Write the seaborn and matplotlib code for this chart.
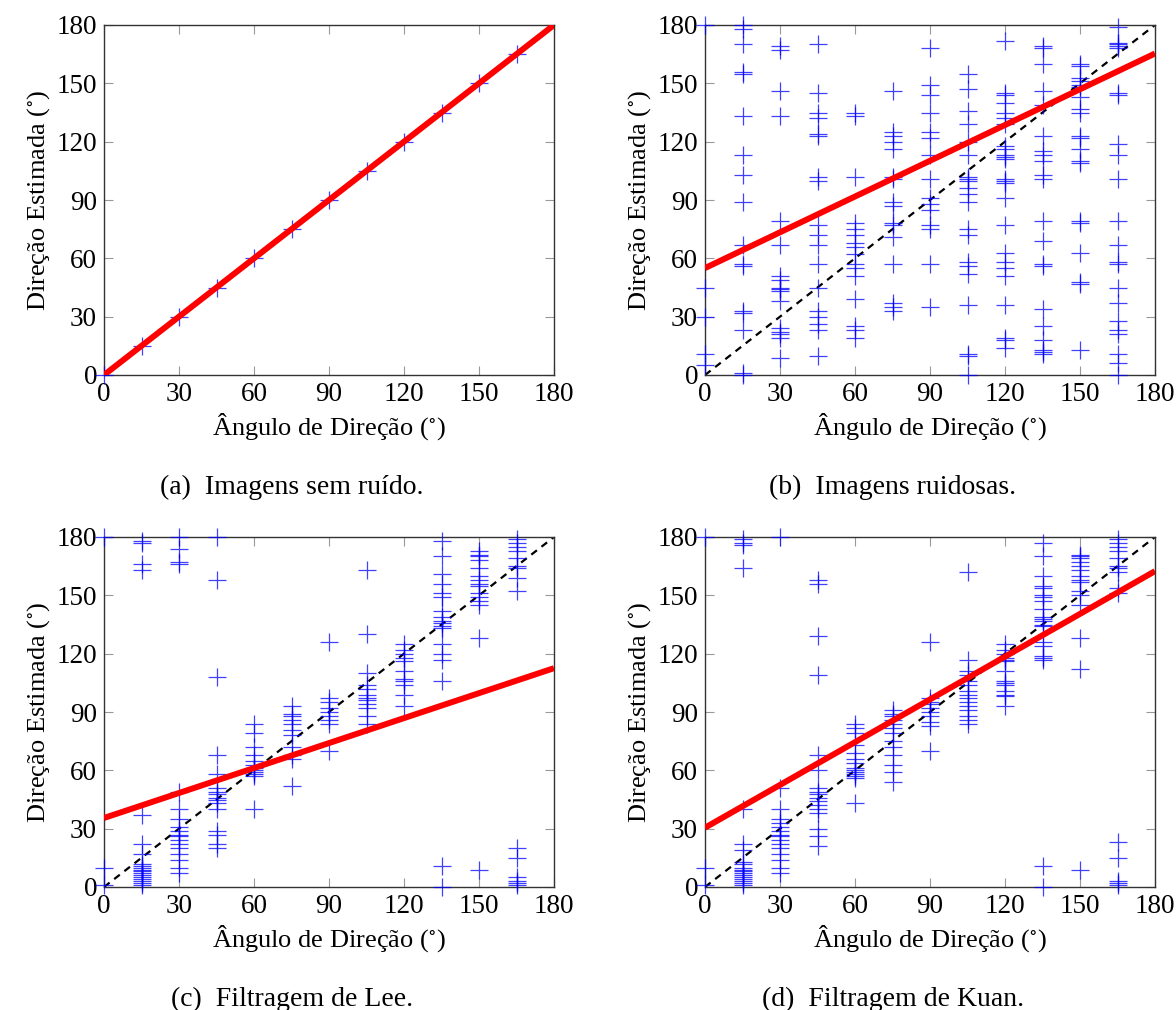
import numpy as np
import pandas as pd
import matplotlib
matplotlib.use("Agg")
import matplotlib.pyplot as plt
import seaborn as sns

# True steering angles (degrees) of the test images
angles = [0, 15, 30, 45, 60, 75, 90, 105, 120, 135, 150, 165]

# Estimated direction for each angle, one list per angle
clean_est = [[0], [15], [30], [45], [60], [75], [90], [105], [120], [135], [150], [165]]

noisy_est = [
    [180, 45, 30, 11, 5],
    [180, 178, 170, 156, 155, 133, 113, 103, 89, 67, 57, 56, 33, 32, 23, 1, 0],
    [169, 167, 146, 133, 79, 67, 51, 49, 45, 44, 43, 38, 24, 22, 21, 19, 9],
    [170, 145, 135, 132, 124, 123, 102, 100, 77, 72, 67, 57, 45, 33, 30, 26, 23, 10],
    [135, 133, 102, 78, 75, 72, 68, 66, 62, 57, 55, 51, 39, 25, 23, 19],
    [146, 125, 123, 120, 116, 102, 101, 89, 87, 78, 77, 71, 57, 37, 35, 33],
    [168, 149, 144, 135, 125, 122, 113, 101, 91, 88, 85, 77, 75, 57, 35],
    [155, 147, 136, 129, 120, 113, 102, 101, 100, 96, 93, 89, 75, 72, 58, 56, 52, 36, 11, 10, 0],
    [172, 145, 144, 140, 135, 132, 129, 118, 116, 113, 112, 111, 101, 100, 99, 91, 77, 63, 58,
     55, 51, 36, 19, 18, 14],
    [169, 168, 160, 146, 139, 123, 115, 113, 110, 103, 101, 79, 69, 57, 56, 34, 25, 18, 13, 12, 11],
    [160, 159, 153, 151, 149, 148, 143, 137, 135, 123, 122, 116, 110, 109, 79, 78, 63, 48, 47, 13],
    [179, 171, 170, 169, 168, 145, 144, 119, 113, 101, 79, 67, 58, 57, 45, 37, 28, 23, 21, 11, 6, 0],
]

lee_est = [
    [180, 10, 1],
    [178, 177, 166, 163, 37, 22, 17, 12, 11, 10, 9, 8, 7, 6, 5, 4, 3, 2, 1],
    [180, 174, 167, 166, 49, 40, 35, 31, 29, 27, 26, 24, 22, 20, 17, 14, 10, 7],
    [180, 158, 108, 68, 58, 51, 49, 48, 46, 45, 43, 40, 29, 27, 22, 20],
    [84, 79, 72, 68, 65, 63, 61, 60, 59, 58, 57, 40],
    [93, 89, 88, 86, 84, 81, 78, 72, 68, 66, 52],
    [126, 97, 95, 92, 90, 88, 86, 84, 70],
    [163, 130, 110, 104, 102, 99, 97, 96, 94, 92, 88, 84],
    [125, 122, 120, 118, 116, 111, 107, 106, 104, 99, 93],
    [178, 170, 161, 156, 151, 149, 142, 139, 137, 136, 134, 133, 125, 120, 117, 106, 11, 0],
    [173, 171, 170, 168, 164, 160, 158, 156, 155, 151, 149, 147, 145, 128, 9],
    [179, 177, 175, 173, 169, 165, 164, 159, 152, 20, 15, 5, 3, 2, 1],
]

kuan_est = [
    [180, 10, 1],
    [179, 177, 176, 164, 40, 22, 19, 13, 12, 10, 9, 8, 7, 6, 5, 4, 3, 2, 1],
    [180, 51, 40, 35, 33, 31, 29, 27, 26, 24, 22, 20, 17, 14, 10, 7],
    [158, 156, 129, 109, 68, 60, 51, 49, 48, 46, 44, 42, 40, 38, 30, 26, 21],
    [84, 82, 79, 73, 69, 66, 64, 61, 60, 59, 58, 57, 56, 43],
    [91, 89, 88, 86, 84, 82, 79, 75, 72, 68, 63, 59, 54],
    [126, 97, 95, 94, 92, 90, 88, 85, 83, 70],
    [162, 117, 111, 109, 106, 104, 101, 99, 97, 95, 93, 91, 88, 86, 84],
    [125, 122, 120, 118, 117, 116, 111, 106, 105, 104, 101, 99, 98, 93],
    [177, 170, 160, 155, 154, 150, 149, 147, 143, 139, 138, 137, 135, 134, 126, 124, 119, 118,
     117, 11, 0],
    [171, 170, 169, 167, 165, 163, 160, 158, 157, 152, 150, 145, 128, 112, 9],
    [179, 177, 175, 173, 169, 165, 164, 162, 154, 151, 23, 15, 3, 2, 1],
]

# Linear fits (intercept, slope) for each case
fit_intercepts = [0.0, 55.0, 35.5, 30.5]
fit_slopes = [1.0, 0.613, 0.428, 0.733]

captions = ["(a)  Imagens sem ruído.", "(b)  Imagens ruidosas.",
            "(c)  Filtragem de Lee.", "(d)  Filtragem de Kuan."]
ticks = [0, 30, 60, 90, 120, 150, 180]

sns.set_theme(style="white")
plt.rcParams["font.family"] = "serif"
plt.rcParams["font.serif"] = ["Liberation Serif", "DejaVu Serif"]
plt.rcParams["mathtext.fontset"] = "stix"

W, H = 1176, 1010
fig = plt.figure(figsize=(W / 100, H / 100), dpi=100)

# axes boxes in pixels: left, top
boxes = [(104, 25), (705, 25), (104, 537), (705, 537)]
aw, ah = 450, 350

datasets = [clean_est, noisy_est, lee_est, kuan_est]

for k, (est, (lx, ty)) in enumerate(zip(datasets, boxes)):
    ax = fig.add_axes([lx / W, 1 - (ty + ah) / H, aw / W, ah / H])
    xs = [a for a, col in zip(angles, est) for _ in col]
    ys = [v for col in est for v in col]
    df = pd.DataFrame({"angulo": xs, "estimada": ys})

    # reference diagonal
    ax.plot([0, 180], [0, 180], color="black", lw=1.6, ls=(0, (3.2, 2.6)), zorder=2)
    sns.scatterplot(data=df, x="angulo", y="estimada", marker="+", s=180,
                    color="blue", linewidth=0.9, alpha=0.75, ax=ax, zorder=3,
                    legend=False, clip_on=False)
    xf = np.array([0, 180])
    ax.plot(xf, fit_intercepts[k] + fit_slopes[k] * xf, color="red", lw=4.3,
            solid_capstyle="butt", zorder=4)

    ax.set_xlim(0, 180)
    ax.set_ylim(0, 180)
    ax.set_xticks(ticks)
    ax.set_yticks(ticks)
    ax.tick_params(axis="both", which="both", direction="in", length=6.5,
                   width=0.8, color="#999999", labelsize=19.5, pad=5,
                   top=True, right=True, bottom=True, left=True,
                   labelcolor="black")
    for sp in ax.spines.values():
        sp.set_color("#333333")
        sp.set_linewidth(1.0)
        sp.set_visible(True)
    ax.set_xlabel("Ângulo de Direção ($^{\\circ}$)", fontsize=19, labelpad=3, color="black")
    ax.set_ylabel("Direção Estimada ($^{\\circ}$)", fontsize=19, labelpad=3, color="black")
    ax.grid(False)

    cx = (lx + aw / 2 - 37) / W
    cy = 1 - (ty + 462) / H
    fig.text(cx, cy, captions[k], ha="center", va="center", fontsize=20,
             color="black")

fig.savefig("out.png", dpi=100)
